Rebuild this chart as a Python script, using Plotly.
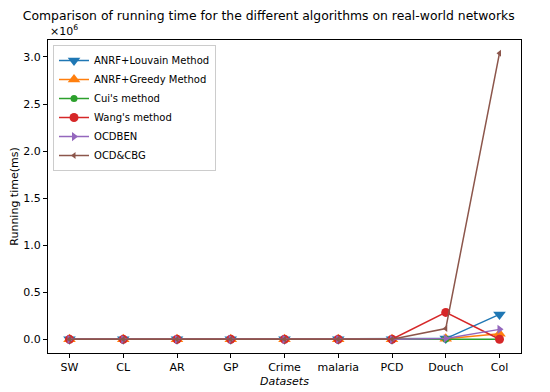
import plotly.graph_objects as go

datasets = ["SW", "CL", "AR", "GP", "Crime", "malaria", "PCD", "Douch", "Col"]

anrf_louvain = [200, 300, 300, 400, 400, 500, 800, 8000, 265000]
anrf_greedy = [150, 250, 250, 300, 350, 400, 700, 6000, 60000]
cui = [100, 150, 150, 200, 200, 250, 500, 3000, 2000]
wang = [300, 400, 500, 600, 600, 700, 1500, 286000, 1000]
ocdben = [200, 300, 300, 400, 400, 500, 900, 9000, 106000]
ocd_cbg = [250, 350, 400, 500, 500, 600, 2000, 115000, 3040000]

series = [
    ("ANRF+Louvain Method", anrf_louvain, "#1f77b4", "triangle-down", 11),
    ("ANRF+Greedy Method", anrf_greedy, "#ff7f0e", "triangle-up", 11),
    ("Cui's method", cui, "#2ca02c", "circle", 7),
    ("Wang's method", wang, "#d62728", "circle", 9),
    ("OCDBEN", ocdben, "#9467bd", "triangle-right", 8),
    ("OCD&CBG", ocd_cbg, "#8c564b", "triangle-left", 6),
]

ytick_vals = [0, 500000, 1000000, 1500000, 2000000, 2500000, 3000000]
ytick_text = ["0.0", "0.5", "1.0", "1.5", "2.0", "2.5", "3.0"]

fig = go.Figure()
for name, vals, color, sym, size in series:
    fig.add_trace(go.Scatter(
        x=list(range(len(datasets))), y=vals, name=name, mode="lines+markers",
        line=dict(color=color, width=1.5),
        marker=dict(symbol=sym, size=size, color=color),
    ))

font = "DejaVu Sans"
# page body adds an 8px offset, so the figure is 542x384
fig.update_layout(
    width=542, height=384,
    margin=dict(l=40, r=29, t=32, b=39),
    paper_bgcolor="white", plot_bgcolor="white",
    font=dict(family=font, size=11, color="black"),
    title=dict(text="Comparison of running time for the different algorithms on real-world networks",
               xref="container", yref="container", x=0.481, xanchor="center",
               y=1.0, yanchor="top", pad=dict(t=3),
               font=dict(size=12.4)),
    showlegend=True,
    legend=dict(x=0.0106, y=0.984, xanchor="left", yanchor="top",
                bgcolor="rgba(255,255,255,0.8)", bordercolor="#cccccc", borderwidth=1,
                font=dict(size=10), tracegroupgap=0, itemwidth=30),
    xaxis=dict(
        tickmode="array", tickvals=list(range(len(datasets))), ticktext=datasets,
        range=[-0.4, 8.4], showgrid=False, zeroline=False, automargin=False,
        showline=True, linecolor="black", linewidth=1, mirror=True,
        ticks="outside", ticklen=4, tickcolor="black",
        title=dict(text="<i>Datasets</i>", font=dict(size=11), standoff=4),
    ),
    yaxis=dict(
        tickmode="array", tickvals=ytick_vals, ticktext=ytick_text,
        range=[-145000, 3180000], showgrid=False, zeroline=False, automargin=False,
        showline=True, linecolor="black", linewidth=1, mirror=True,
        ticks="outside", ticklen=4, tickcolor="black",
        title=dict(text="Running time(ms)", font=dict(size=11), standoff=4),
    ),
    annotations=[dict(text="×10<sup>6</sup>", xref="paper", yref="paper", x=0.0, y=1.0,
                      xanchor="left", yanchor="bottom", showarrow=False, font=dict(size=11))],
)

fig.write_html("out.html")
